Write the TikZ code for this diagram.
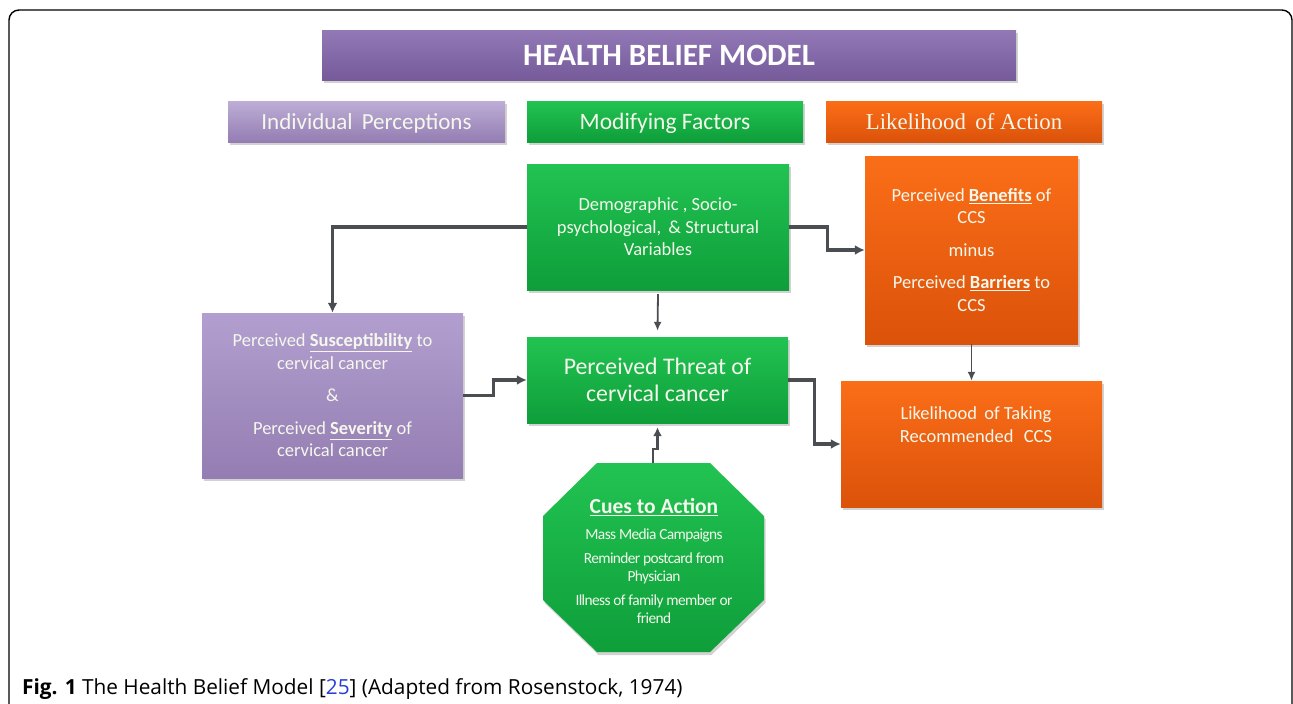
\documentclass[tikz,border=0pt]{standalone}
\usepackage{fontspec}
\setmainfont{Carlito}
\newfontfamily\serifhead{Liberation Serif}
\newfontfamily\capfont{Open Sans}
\usetikzlibrary{arrows.meta,shadows}
\definecolor{ttlTop}{HTML}{9279B6}
\definecolor{ttlBot}{HTML}{765A9A}
\definecolor{lpTop}{HTML}{B29FCF}
\definecolor{lpBot}{HTML}{947DB2}
\definecolor{grTop}{HTML}{22C352}
\definecolor{grBot}{HTML}{0E9E3A}
\definecolor{orTop}{HTML}{FB6E18}
\definecolor{orBot}{HTML}{DB520A}
\definecolor{lineGray}{HTML}{4A4D52}
\definecolor{capBlue}{HTML}{2A3FD8}
\definecolor{txtW}{HTML}{F4F8EC}
\tikzset{
  box/.style={draw=none, inner sep=0pt, align=center, text=txtW,
    drop shadow={shadow xshift=1.5pt, shadow yshift=-3pt, opacity=.35, fill=gray}},
  purplebox/.style={box, top color=lpTop, bottom color=lpBot},
  greenbox/.style={box, top color=grTop, bottom color=grBot},
  orangebox/.style={box, top color=orTop, bottom color=orBot},
  conn/.style={draw=lineGray, line width=3.2pt, -{Latex[length=10pt,width=10pt]}},
  thinconn/.style={draw=lineGray, line width=1.8pt, -{Latex[length=9pt,width=8pt]}},
  bodytxt/.style={font=\fontsize{18.5}{22.5}\selectfont},
  headtxt/.style={text depth=0pt},
}
\begin{document}
\begin{tikzpicture}[x=1pt,y=-1pt]
\useasboundingbox (0,0) rectangle (1293,704);
\fill[white] (0,0) rectangle (1293,704);
\draw[line width=1.4pt, rounded corners=10pt] (9,740) -- (9,10) -- (1292,10) -- (1292,740);

% title and headers
\node[box, headtxt, top color=ttlTop, bottom color=ttlBot, minimum width=694pt, minimum height=50pt,
      font=\fontsize{31}{34}\selectfont\bfseries, text=white] (title) at (669,55) {HEALTH BELIEF MODEL};
\node[purplebox, headtxt, top color=lpTop!85!white, bottom color=lpBot, minimum width=277pt, minimum height=41pt,
      font=\fontsize{23}{26}\selectfont] (hip) at (366.5,121.5) {Individual\, Perceptions};
\node[greenbox, headtxt, minimum width=276pt, minimum height=41pt,
      font=\fontsize{23.5}{26}\selectfont] (hmf) at (665,121.5) {Modifying Factors};
\node[orangebox, headtxt, minimum width=276pt, minimum height=41pt,
      font=\serifhead\fontsize{22.8}{26}\selectfont] (hla) at (964,121.5) {Likelihood\, of Action};

% main boxes
\node[greenbox, minimum width=262pt, minimum height=126pt, bodytxt] (demo) at (658,227)
  {Demographic , Socio-\\psychological,\, \& Structural\\Variables};
\node[orangebox, minimum width=213pt, minimum height=188pt, bodytxt] (ben) at (971.5,250)
  {Perceived \textbf{\underline{Benefits}} of\\CCS\\[10pt]minus\\[10pt]Perceived \textbf{\underline{Barriers}} to\\CCS};
\node[purplebox, minimum width=261pt, minimum height=165pt, bodytxt] (sus) at (332.5,395.5)
  {Perceived \textbf{\underline{Susceptibility}} to\\cervical cancer\\[10pt]\&\\[10pt]Perceived \textbf{\underline{Severity}} of\\cervical cancer};
\node[greenbox, minimum width=261pt, minimum height=86pt,
      font=\fontsize{23.8}{27}\selectfont] (threat) at (657.5,380)
  {Perceived Threat of\\cervical cancer};
\node[orangebox, minimum width=261pt, minimum height=126pt] (take) at (971.5,444) {};
\node[bodytxt, text=txtW, align=center] (taketxt) at (976,424.5)
  {Likelihood\, of Taking\\Recommended\,\, CCS};

% cues octagon
\path[top color=grTop, bottom color=grBot,
      drop shadow={shadow xshift=1.5pt, shadow yshift=-3pt, opacity=.35, fill=gray}]
  (597,463) -- (710,463) -- (764,516) -- (764,600) -- (710,652) -- (597,652)
  -- (543,600) -- (543,516) -- cycle;
\coordinate (octtop) at (653,463);
\node[align=center, text=txtW, inner sep=0pt] (cues) at (654,507)
  {\fontsize{21.5}{24}\selectfont\bfseries\underline{Cues to Action}};
\node[align=center, text=txtW, inner sep=0pt, anchor=north,
      font=\fontsize{15.4}{18}\selectfont\addfontfeatures{LetterSpace=-4}] (cuelist) at (654,529)
  {Mass Media Campaigns\\[6pt]Reminder postcard from\\Physician\\[6pt]Illness of family member or\\friend};

% connectors
\draw[conn] (demo.west) -| (sus.north);
\draw[conn] (demo.east) -- ++(38,0) |- (ben.west);
\draw[thinconn] ([yshift=-4pt]demo.south) -- ([yshift=6pt]threat.north);
\draw[conn] (sus.east) -- ++(30,0) |- (threat.west);
\draw[conn] (threat.east) -- ++(26,0) |- (take.west);
\draw[thinconn] (ben.south) -- (take.north);
\draw[draw=lineGray, line width=2.2pt, -{Latex[length=9pt,width=9pt]}]
  (octtop) -- ++(0,-14) -| ([yshift=-4pt]threat.south);

% caption
\node[anchor=base west, inner sep=0pt, font=\capfont\fontsize{20.8}{24}\selectfont] (cap) at (22,694)
  {\textbf{Fig. 1} The Health Belief Model [\textcolor{capBlue}{25}] (Adapted from Rosenstock, 1974)};
\end{tikzpicture}
\end{document}
